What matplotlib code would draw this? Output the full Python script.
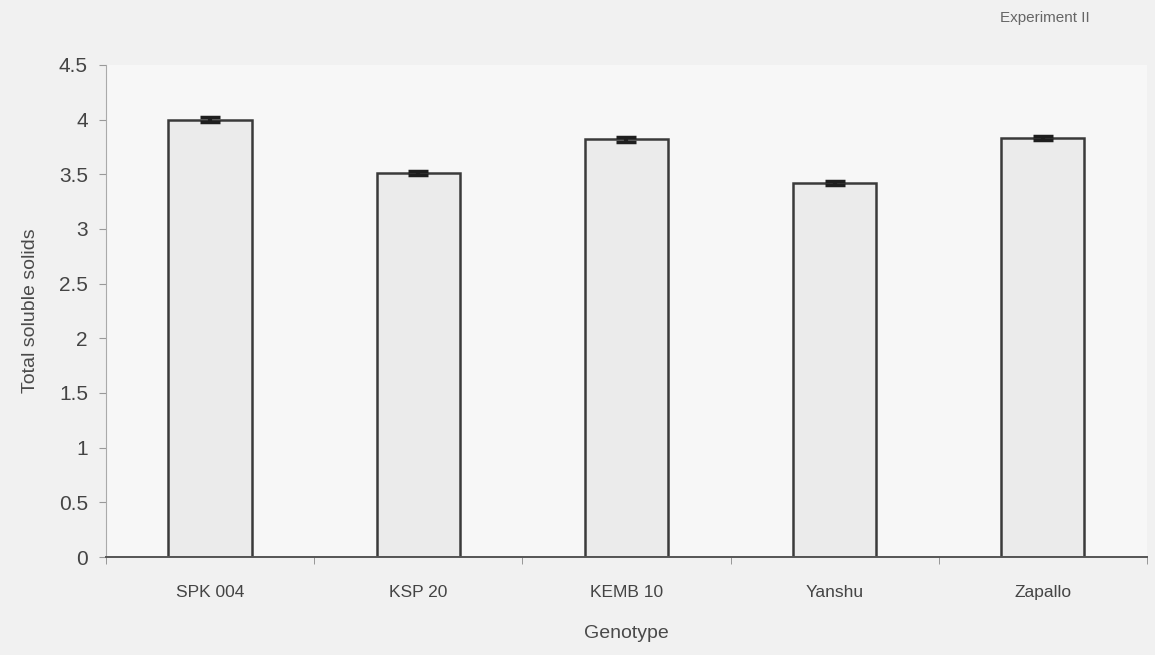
import matplotlib.pyplot as plt
import numpy as np

# Total soluble solids by genotype (Experiment II)
genotypes = ["SPK 004", "KSP 20", "KEMB 10", "Yanshu", "Zapallo"]
tss_mean = [4.00, 3.51, 3.82, 3.42, 3.83]
tss_err = [0.02, 0.02, 0.02, 0.02, 0.02]
y_ticks = [0, 0.5, 1, 1.5, 2, 2.5, 3, 3.5, 4, 4.5]

plt.rcParams["font.family"] = ["Liberation Sans", "DejaVu Sans"]
text_col = "#4a4a4a"

fig = plt.figure(figsize=(11.55, 6.55), dpi=100, facecolor="#f1f1f1")
ax = fig.add_axes([0.0918, 0.1496, 0.9012, 0.7512])
ax.set_facecolor("#f7f7f7")

x = np.arange(len(genotypes))
ax.bar(x, tss_mean, width=0.40, color="#ebebeb", edgecolor="#3a3a3a",
       linewidth=1.8, zorder=2)
ax.errorbar(x, tss_mean, yerr=tss_err, fmt="none", ecolor="#1e1e1e",
            elinewidth=3, capsize=7, capthick=2.5, zorder=3)

ax.set_xlim(-0.5, len(genotypes) - 0.5)
ax.set_ylim(0, 4.5)
ax.set_yticks(y_ticks)
ax.set_yticklabels([f"{t:g}" for t in y_ticks])
ax.set_xticks(x)
ax.set_xticklabels(genotypes)

# boundary ticks between categories on the x axis
ax.set_xticks(np.arange(-0.5, len(genotypes)), minor=True)
ax.tick_params(axis="x", which="major", length=0, pad=20,
               labelsize=12.5, labelcolor="#444444")
ax.tick_params(axis="x", which="minor", length=5, color="#888888", direction="out")
ax.tick_params(axis="y", length=5, color="#999999", labelsize=15,
               labelcolor="#444444", pad=8)

for side in ["top", "right"]:
    ax.spines[side].set_visible(False)
ax.spines["left"].set_color("#aaaaaa")
ax.spines["bottom"].set_color("#555555")
ax.spines["bottom"].set_linewidth(1.4)

ax.set_xlabel("Genotype", fontsize=14, color=text_col, labelpad=18)
ax.set_ylabel("Total soluble solids", fontsize=14, color=text_col, labelpad=14)
fig.text(0.905, 0.972, "Experiment II", fontsize=11, color="#666666",
         ha="center", va="center")

fig.savefig("out.png", dpi=100, facecolor=fig.get_facecolor())
